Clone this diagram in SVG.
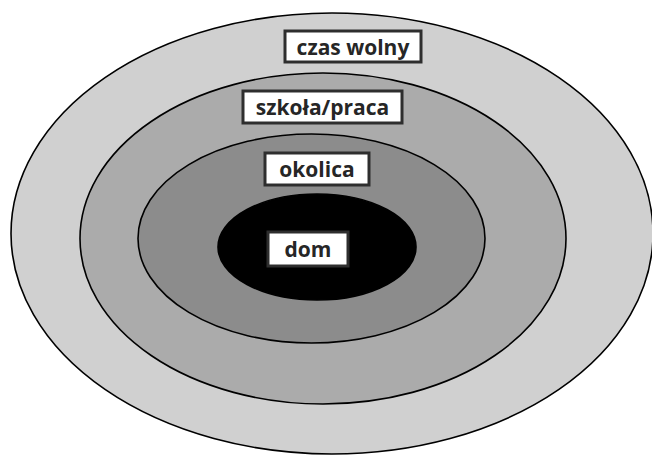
<svg xmlns="http://www.w3.org/2000/svg" width="652" height="455" viewBox="0 0 652 455">
<style>
.ring{stroke:#000;stroke-width:1.6}
.box{fill:#fff;stroke:#2e2e2e;stroke-width:3}
.lbl{font-family:"Open Sans","Noto Sans",sans-serif;font-weight:bold;font-size:21px;fill:#262626;text-anchor:middle}
</style>
<rect width="652" height="455" fill="#fff"/>
<g id="czas-wolny">
<ellipse class="ring" cx="332" cy="233.5" rx="321" ry="220.5" fill="#d0d0d0"/>
</g>
<g id="szkola-praca">
<ellipse class="ring" cx="323" cy="238.5" rx="243" ry="165.5" fill="#ababab"/>
</g>
<g id="okolica">
<ellipse class="ring" cx="311.5" cy="238.5" rx="173.5" ry="104.5" fill="#8c8c8c"/>
</g>
<g id="dom">
<ellipse class="ring" cx="317" cy="247" rx="99" ry="53" fill="#000"/>
</g>
<g id="labels">
<rect class="box" x="285" y="31" width="136" height="31"/>
<text class="lbl" x="353" y="54.5">czas wolny</text>
<rect class="box" x="243" y="91" width="159" height="32"/>
<text class="lbl" x="322.5" y="114.5">szkoła/praca</text>
<rect class="box" x="265" y="153" width="104" height="32"/>
<text class="lbl" x="317" y="176.5">okolica</text>
<rect class="box" x="268" y="232" width="80" height="34"/>
<text class="lbl" x="308" y="256.5">dom</text>
</g>
</svg>
